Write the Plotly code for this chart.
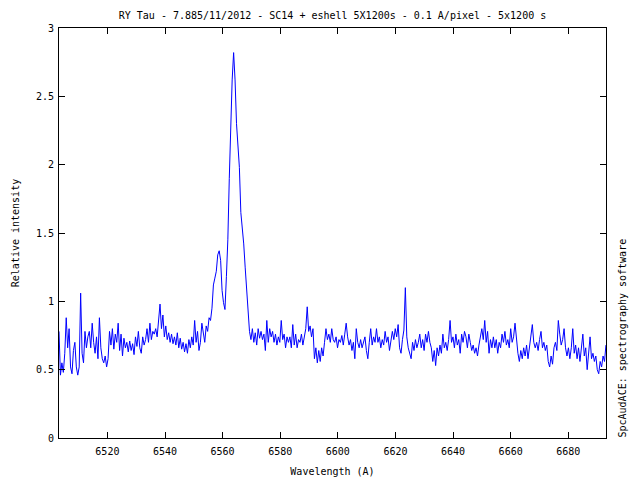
import plotly.graph_objects as go

# Spectrum sampled every ~0.5 A, starting at 6503.2 A
wavelength_start = 6503.2
wavelength_step = 0.501

intensity = [
    # 6503 - 6513
    0.78, 0.46, 0.55, 0.48, 0.62, 0.88, 0.66, 0.80, 0.52, 0.47,
    0.64, 0.70, 0.52, 0.46, 0.52, 1.06, 0.62, 0.55, 0.78, 0.66,
    # 6513 - 6523
    0.74, 0.78, 0.66, 0.84, 0.70, 0.62, 0.74, 0.58, 0.88, 0.66,
    0.58, 0.55, 0.60, 0.52, 0.58, 0.78, 0.68, 0.80, 0.65, 0.76,
    # 6523 - 6533
    0.70, 0.84, 0.64, 0.76, 0.60, 0.73, 0.66, 0.70, 0.63, 0.71,
    0.64, 0.69, 0.61, 0.74, 0.67, 0.78, 0.66, 0.62, 0.74, 0.68,
    # 6533 - 6543
    0.72, 0.80, 0.70, 0.84, 0.72, 0.78, 0.76, 0.80, 0.74, 0.86,
    0.98, 0.80, 0.90, 0.74, 0.82, 0.72, 0.77, 0.70, 0.76, 0.69,
    # 6543 - 6553
    0.74, 0.68, 0.77, 0.66, 0.73, 0.65, 0.70, 0.63, 0.69, 0.62,
    0.72, 0.66, 0.74, 0.68, 0.86, 0.70, 0.78, 0.64, 0.70, 0.84,
    # 6553 - 6563 (H-alpha blue side)
    0.76, 0.70, 0.82, 0.78, 0.88, 0.86, 0.95, 1.12, 1.17, 1.22,
    1.34, 1.37, 1.30, 1.08, 0.99, 0.94, 1.18, 1.45, 1.90, 2.35,
    # 6563 - 6573 (H-alpha peak and red side)
    2.62, 2.82, 2.62, 2.30, 2.15, 1.98, 1.65, 1.55, 1.42, 1.25,
    1.10, 0.90, 0.78, 0.72, 0.80, 0.70, 0.77, 0.68, 0.80, 0.73,
    # 6573 - 6583
    0.78, 0.72, 0.76, 0.64, 0.86, 0.70, 0.80, 0.74, 0.78, 0.70,
    0.76, 0.68, 0.74, 0.70, 0.86, 0.72, 0.76, 0.66, 0.74, 0.70,
    # 6583 - 6593
    0.74, 0.66, 0.83, 0.68, 0.76, 0.66, 0.72, 0.70, 0.76, 0.68,
    0.74, 0.80, 0.96, 0.78, 0.82, 0.74, 0.80, 0.58, 0.66, 0.55,
    # 6593 - 6603
    0.64, 0.56, 0.66, 0.60, 0.70, 0.80, 0.72, 0.76, 0.70, 0.80,
    0.72, 0.70, 0.74, 0.66, 0.72, 0.70, 0.75, 0.68, 0.76, 0.84,
    # 6603 - 6613
    0.74, 0.68, 0.72, 0.64, 0.70, 0.58, 0.80, 0.70, 0.66, 0.72,
    0.66, 0.70, 0.74, 0.64, 0.58, 0.70, 0.80, 0.68, 0.74, 0.70,
    # 6613 - 6623
    0.80, 0.70, 0.74, 0.66, 0.72, 0.68, 0.78, 0.70, 0.74, 0.64,
    0.70, 0.78, 0.72, 0.80, 0.74, 0.83, 0.66, 0.62, 0.72, 0.79,
    # 6623 - 6633
    1.10, 0.74, 0.66, 0.62, 0.58, 0.70, 0.64, 0.72, 0.66, 0.70,
    0.76, 0.66, 0.72, 0.64, 0.76, 0.70, 0.78, 0.70, 0.66, 0.56,
    # 6633 - 6643
    0.64, 0.53, 0.66, 0.60, 0.68, 0.62, 0.76, 0.66, 0.70, 0.64,
    0.72, 0.86, 0.70, 0.74, 0.66, 0.76, 0.68, 0.72, 0.62, 0.76,
    # 6643 - 6653
    0.70, 0.78, 0.74, 0.66, 0.76, 0.70, 0.64, 0.68, 0.62, 0.66,
    0.60, 0.68, 0.74, 0.80, 0.72, 0.86, 0.70, 0.78, 0.62, 0.72,
    # 6653 - 6663
    0.66, 0.74, 0.66, 0.72, 0.62, 0.70, 0.66, 0.76, 0.70, 0.78,
    0.68, 0.72, 0.66, 0.80, 0.70, 0.74, 0.84, 0.72, 0.62, 0.56,
    # 6663 - 6673
    0.64, 0.58, 0.66, 0.60, 0.68, 0.58, 0.66, 0.72, 0.83, 0.70,
    0.66, 0.70, 0.64, 0.72, 0.78, 0.66, 0.70, 0.64, 0.68, 0.56,
    # 6673 - 6683
    0.52, 0.60, 0.54, 0.66, 0.70, 0.64, 0.86, 0.76, 0.68, 0.72,
    0.80, 0.66, 0.60, 0.66, 0.58, 0.66, 0.80, 0.62, 0.68, 0.58,
    # 6683 - 6693
    0.66, 0.56, 0.64, 0.76, 0.60, 0.66, 0.50, 0.62, 0.74, 0.58,
    0.62, 0.56, 0.60, 0.50, 0.47, 0.56, 0.52, 0.60, 0.56, 0.68,
]

wavelength = [wavelength_start + wavelength_step * i for i in range(len(intensity))]

x_ticks = [6520, 6540, 6560, 6580, 6600, 6620, 6640, 6660, 6680]
y_ticks = [0, 0.5, 1, 1.5, 2, 2.5, 3]
y_tick_labels = ["0", "0.5", "1", "1.5", "2", "2.5", "3"]

title_text = "RY Tau - 7.885/11/2012 - SC14 + eshell 5X1200s - 0.1 A/pixel - 5x1200 s"
side_text = "SpcAudACE: spectrography software"

FONT = "DejaVu Sans Mono"

fig = go.Figure()
fig.add_trace(go.Scatter(
    x=wavelength, y=intensity, mode="lines",
    line=dict(color="#0000ff", width=1),
    showlegend=False, hoverinfo="skip",
))

axis_common = dict(
    showline=True, linecolor="black", linewidth=1, mirror="ticks",
    ticks="inside", ticklen=6, tickcolor="black", tickwidth=1,
    showgrid=False, zeroline=False, automargin=False,
    tickfont=dict(family=FONT, size=10, color="black"),
)

# the page body adds an 8px offset; margins compensate for it
fig.update_layout(
    width=640, height=480,
    margin=dict(l=51, r=42, t=20, b=50, autoexpand=False),
    paper_bgcolor="white", plot_bgcolor="white",
    font=dict(family=FONT, size=10, color="black"),
    title=dict(text=title_text, xref="paper", x=0.5, xanchor="center",
               y=1 - 7 / 480, yanchor="middle",
               font=dict(family=FONT, size=10, color="black")),
    xaxis=dict(range=[6503.2, 6693.1], tickvals=x_ticks,
               title=dict(text="Wavelength (A)", standoff=11,
                          font=dict(family=FONT, size=10)),
               ticklabelstandoff=4, **axis_common),
    yaxis=dict(range=[0, 3], tickvals=y_ticks, ticktext=y_tick_labels,
               title=dict(text="Relative intensity", standoff=14,
                          font=dict(family=FONT, size=10)),
               ticklabelstandoff=2, **axis_common),
    annotations=[dict(
        text=side_text, textangle=-90, xref="paper", yref="paper",
        x=(622 - 59) / 547, y=-2 / 410, xanchor="center", yanchor="bottom",
        showarrow=False, font=dict(family=FONT, size=10, color="black"),
    )],
)

fig.write_html("out.html")
